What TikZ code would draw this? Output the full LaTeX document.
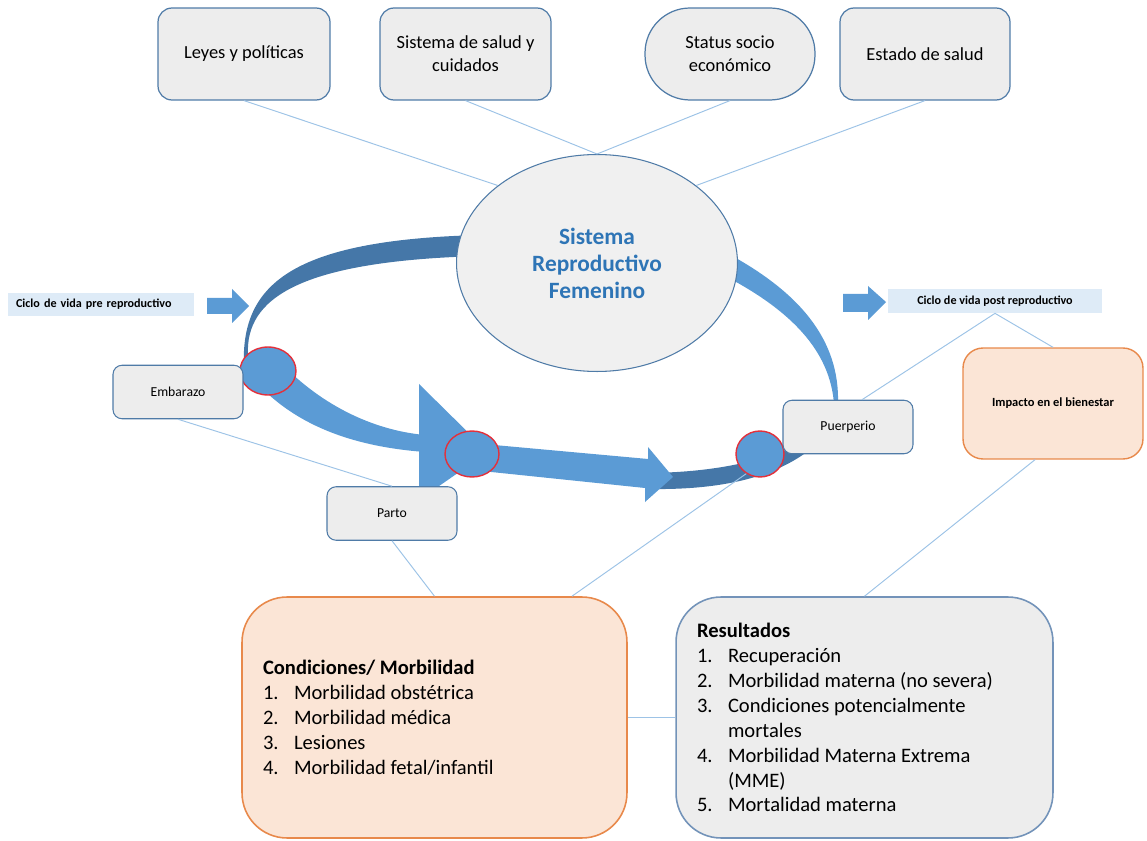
\documentclass[tikz,border=0pt]{standalone}
\usepackage{fontspec}
\setmainfont{Carlito}
\usetikzlibrary{shapes.geometric}
\definecolor{lightband}{HTML}{5B9BD5}
\definecolor{darkband}{HTML}{4577A8}
\definecolor{boxfill}{HTML}{EDEDED}
\definecolor{boxline}{HTML}{4F7BA7}
\definecolor{ellfill}{HTML}{F0F0F0}
\definecolor{titleblue}{HTML}{2E75B6}
\definecolor{linkblue}{HTML}{9DC3E6}
\definecolor{dotred}{HTML}{E3303B}
\definecolor{cyclefill}{HTML}{DEEBF7}
\definecolor{orangefill}{HTML}{FBE5D6}
\definecolor{orangeline}{HTML}{E8894B}
\definecolor{resline}{HTML}{7393B9}
\newcommand{\nro}[1]{\makebox[0.62cm][l]{#1}}
\tikzset{
  caja/.style={draw=boxline, fill=boxfill, line width=0.7pt, rounded corners=0.28cm, align=center,
    font=\fontsize{10.5}{13}\selectfont, inner sep=0pt, minimum height=1.84cm},
  cajita/.style={draw=boxline, fill=boxfill, line width=0.6pt, rounded corners=0.18cm,
    font=\fontsize{7.8}{9}\selectfont, minimum width=2.6cm, minimum height=1.07cm, inner sep=0pt},
  ciclo/.style={fill=cyclefill, font=\bfseries\fontsize{6.9}{8}\selectfont, inner sep=0pt},
  punto/.style={ellipse, draw=dotred, fill=lightband, line width=0.8pt, inner sep=0pt},
  enlace/.style={draw=linkblue, line width=0.55pt},
  lista/.style={rounded corners=0.9cm, line width=0.9pt, align=flush left, inner ysep=0pt, inner xsep=0.42cm,
    minimum height=4.82cm, font=\fontsize{11.7}{14.2}\selectfont}
}
\begin{document}
\begin{tikzpicture}[x=0.02cm,y=-0.02cm]
\useasboundingbox (0,0) rectangle (1147,841);
% anillo
\fill[darkband] (244,368) .. controls (240,285) and (290,240) .. (480,235) -- (600,233) -- (600,256)
  -- (480,256) .. controls (300,261) and (245,298) .. (248,355) -- cycle;
\fill[lightband] (725,252) .. controls (800,292) and (840,340) .. (838,404) -- (834,404)
  .. controls (830,350) and (790,310) .. (725,276) -- cycle;
\fill[lightband] (288,370) .. controls (322,403) and (370,430) .. (425,435) -- (425,452)
  .. controls (358,447) and (298,428) .. (256,382) -- cycle;
\fill[lightband] (419,384) -- (488,452) -- (419,500) -- cycle;
\fill[darkband] (652,473) .. controls (700,472) and (750,466) .. (795,446) -- (812,448)
  .. controls (775,478) and (720,490) .. (650,489) -- cycle;
\fill[lightband] (472,443) -- (648,459) -- (648,447) -- (673,477) -- (645,502) -- (645,488) -- (472,470) -- cycle;
% flechas laterales
\fill[lightband] (207,298) -- (232,298) -- (232,289) -- (249,306) -- (232,323) -- (232,314) -- (207,314) -- cycle;
\fill[lightband] (843,294) -- (868,294) -- (868,286) -- (886,302) -- (868,320) -- (868,312) -- (843,312) -- cycle;

\node[caja, minimum width=3.44cm] (leyes) at (244,54) {Leyes y políticas};
\node[caja, minimum width=3.42cm] (salud) at (465.5,54) {Sistema de salud y\\cuidados};
\node[caja, rounded corners=0.9cm, minimum width=3.4cm] (status) at (730,54) {Status socio\\económico};
\node[caja, minimum width=3.4cm] (estado) at (925,54) {Estado de salud};

\node[ellipse, draw=boxline, fill=ellfill, line width=0.6pt, minimum width=5.62cm, minimum height=4.34cm,
  inner sep=0pt, align=center, text=titleblue, font=\bfseries\fontsize{13.3}{15.4}\selectfont]
  (srf) at (597,263) {Sistema\\Reproductivo\\Femenino};

\node[punto, minimum width=1.12cm, minimum height=0.96cm] (dotA) at (268,371) {};
\node[punto, minimum width=1.08cm, minimum height=0.92cm] (dotB) at (472,454) {};
\node[punto, minimum width=0.96cm, minimum height=0.92cm] (dotC) at (760,454) {};

\node[ciclo, text width=3.4cm, inner xsep=0.16cm, minimum height=0.46cm, align=left] (pre) at (101,304.5) {Ciclo de vida pre reproductivo};
\node[ciclo, minimum width=4.28cm, minimum height=0.48cm] (post) at (995,301) {Ciclo de vida post reproductivo};

\node[cajita] (emb) at (178,392) {Embarazo};
\node[cajita] (parto) at (392,513.5) {Parto};
\node[cajita] (puer) at (848,427) {Puerperio};
\node[draw=orangeline, fill=orangefill, line width=0.8pt, rounded corners=0.4cm, minimum width=3.6cm,
  minimum height=2.22cm, inner sep=0pt, font=\bfseries\fontsize{7.1}{9}\selectfont] (imp) at (1053,403.5) {Impacto en el bienestar};

\node[lista, draw=orangeline, fill=orangefill, text width=6.86cm] (cond) at (434.5,717.5) {%
  \textbf{Condiciones/ Morbilidad}\\
  \nro{1.}Morbilidad obstétrica\\
  \nro{2.}Morbilidad médica\\
  \nro{3.}Lesiones\\
  \nro{4.}Morbilidad fetal/infantil};
\node[lista, draw=resline, fill=boxfill, text width=6.7cm] (res) at (864.5,717.5) {%
  \textbf{Resultados}\\
  \nro{1.}Recuperación\\
  \nro{2.}Morbilidad materna (no severa)\\
  \nro{3.}Condiciones potencialmente\\
  \nro{}mortales\\
  \nro{4.}Morbilidad Materna Extrema\\
  \nro{}(MME)\\
  \nro{5.}Mortalidad materna};

% enlaces
\draw[enlace] (leyes.south) -- (srf.142);
\draw[enlace] (salud.south) -- (srf.north);
\draw[enlace] (status.south) -- (srf.north);
\draw[enlace] (estado.south) -- (srf.38);
\draw[enlace] (post.south) -- ([xshift=0.28cm]puer.north);
\draw[enlace] (post.south) -- (imp.north);
\draw[enlace] (emb.south) -- (parto.north);
\draw[enlace] (parto.south) -- (cond.north);
\draw[enlace] ([xshift=2.75cm]cond.north) -- (dotC.235);
\draw[enlace] (res.north) -- ([xshift=-0.36cm]imp.south);
\draw[enlace] (cond.east) -- (res.west);
\end{tikzpicture}
\end{document}
